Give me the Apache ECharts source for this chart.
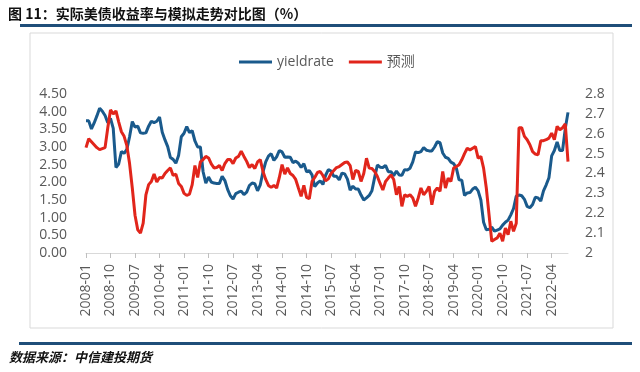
<!DOCTYPE html>
<html><head><meta charset="utf-8">
<script src="https://cdn.jsdelivr.net/npm/echarts@6/dist/echarts.min.js"></script>
<style>html,body{margin:0;padding:0;background:#fff}#c{width:640px;height:372px}</style>
</head><body><div id="c"></div>
<script>
// Monthly categories 2008-01 .. 2022-10
const startYear = 2008, endYear = 2022, endMonth = 10;
const categories = [];
for (let y = startYear; y <= endYear; y++) {
  for (let m = 1; m <= 12; m++) {
    if (y === endYear && m > endMonth) break;
    categories.push(y + '-' + (m < 10 ? '0' + m : m));
  }
}
const yieldrate = [
3.74,3.74,3.51,3.68,3.88,4.10,4.01,3.89,3.69,3.81,3.53,2.42,
2.52,2.87,2.82,2.93,3.29,3.72,3.56,3.59,3.40,3.39,3.40,3.59,
3.73,3.69,3.73,3.85,3.42,3.20,3.01,2.70,2.65,2.54,2.76,3.29,
3.39,3.58,3.41,3.46,3.17,3.00,3.00,2.30,1.98,2.15,2.01,1.98,
1.97,1.97,2.17,2.05,1.80,1.62,1.53,1.68,1.72,1.75,1.65,1.72,
1.91,1.98,1.96,1.76,1.93,2.30,2.58,2.74,2.81,2.62,2.72,2.90,
2.86,2.71,2.72,2.71,2.56,2.60,2.54,2.42,2.53,2.30,2.33,2.21,
1.88,1.98,2.04,1.94,2.20,2.36,2.32,2.17,2.17,2.07,2.26,2.24,
2.09,1.78,1.89,1.81,1.81,1.64,1.50,1.56,1.63,1.76,2.14,2.49,
2.43,2.42,2.48,2.30,2.30,2.19,2.32,2.21,2.20,2.36,2.35,2.40,
2.58,2.86,2.84,2.87,2.98,2.91,2.89,2.89,3.00,3.15,3.12,2.83,
2.71,2.68,2.57,2.53,2.40,2.07,2.06,1.63,1.70,1.71,1.81,1.86,
1.76,1.50,0.87,0.66,0.67,0.73,0.62,0.65,0.68,0.79,0.87,0.93,
1.08,1.26,1.61,1.64,1.62,1.52,1.32,1.28,1.37,1.58,1.56,1.47,
1.76,1.93,2.13,2.75,2.90,3.14,2.90,2.90,3.52,3.98
];
const forecast = [
2.53,2.575,2.56,2.545,2.53,2.52,2.525,2.53,2.63,2.72,2.70,2.715,
2.66,2.61,2.587,2.54,2.45,2.327,2.19,2.117,2.10,2.15,2.293,2.344,
2.36,2.397,2.357,2.38,2.377,2.40,2.415,2.428,2.39,2.397,2.35,2.335,
2.30,2.29,2.296,2.344,2.44,2.38,2.458,2.47,2.486,2.478,2.448,2.428,
2.43,2.44,2.415,2.45,2.47,2.47,2.45,2.478,2.486,2.512,2.486,2.461,
2.43,2.445,2.425,2.458,2.47,2.41,2.37,2.34,2.33,2.34,2.327,2.38,
2.445,2.397,2.428,2.40,2.39,2.37,2.327,2.285,2.34,2.28,2.273,2.36,
2.38,2.405,2.41,2.39,2.363,2.373,2.40,2.415,2.43,2.435,2.445,2.455,
2.458,2.44,2.37,2.415,2.41,2.36,2.40,2.477,2.427,2.425,2.41,2.385,
2.35,2.317,2.36,2.377,2.393,2.37,2.293,2.335,2.235,2.293,2.285,2.293,
2.277,2.235,2.277,2.327,2.293,2.31,2.335,2.243,2.31,2.327,2.31,2.41,
2.327,2.377,2.36,2.427,2.435,2.444,2.469,2.50,2.527,2.519,2.527,2.535,
2.477,2.486,2.427,2.327,2.193,2.059,2.068,2.076,2.10,2.059,2.126,2.092,
2.16,2.109,2.15,2.63,2.63,2.587,2.57,2.545,2.51,2.498,2.494,2.565,
2.565,2.57,2.578,2.603,2.57,2.637,2.62,2.63,2.65,2.46
];
const seriesNames = ['yieldrate', '预测'];
const titleText = '图 11：实际美债收益率与模拟走势对比图（%）';
const sourceText = '数据来源：中信建投期货';

const chart = echarts.init(document.getElementById('c'), null, {renderer: 'canvas'});
const labelColor = '#595959';
const font = '"Open Sans", "Noto Sans CJK SC", sans-serif';
chart.setOption({
  animation: false,
  textStyle: {fontFamily: font},
  graphic: [
    {type: 'rect', shape: {x: 30, y: 33, width: 583, height: 295}, style: {fill: 'none', stroke: '#d9d9d9', lineWidth: 1}, silent: true},
    {type: 'text', left: 8, top: 7, style: {text: titleText, font: 'bold 14px "Noto Sans CJK SC", sans-serif', fill: '#111'}},
    {type: 'rect', shape: {x: 20, y: 24, width: 612, height: 3}, style: {fill: '#1f4e79'}},
    {type: 'rect', shape: {x: 19, y: 342, width: 613, height: 3}, style: {fill: '#1f4e79'}},
    {type: 'text', left: 9, top: 351, style: {text: sourceText, font: 'italic bold 13px "Noto Sans CJK SC", sans-serif', fill: '#111'}}
  ],
  legend: {
    data: seriesNames,
    left: 239, top: 55, padding: 0,
    icon: 'rect', itemWidth: 33, itemHeight: 3, itemGap: 15,
    textStyle: {fontSize: 14, color: labelColor, fontFamily: font}
  },
  grid: {left: 86, right: 72, top: 94, bottom: 119},
  xAxis: {
    type: 'category', data: categories, boundaryGap: false,
    axisLine: {lineStyle: {color: '#d9d9d9'}},
    axisTick: {interval: 8, length: 5, lineStyle: {color: '#bfbfbf'}},
    axisLabel: {interval: 8, rotate: 90, margin: 11, fontSize: 14, color: labelColor, fontFamily: font},
    splitLine: {show: false}
  },
  yAxis: [
    {type: 'value', min: 0, max: 4.5, interval: 0.5,
     axisLine: {show: false}, axisTick: {show: false}, splitLine: {show: false},
     axisLabel: {margin: 19, fontSize: 14, color: labelColor, fontFamily: font, formatter: v => v.toFixed(2)}},
    {type: 'value', min: 2, max: 2.8, interval: 0.1, position: 'right',
     axisLine: {show: false}, axisTick: {show: false}, splitLine: {show: false},
     axisLabel: {margin: 17, fontSize: 14, color: labelColor, fontFamily: font, formatter: v => (Math.abs(v - 2) < 1e-9 ? '2' : v.toFixed(1))}}
  ],
  series: [
    {name: seriesNames[0], type: 'line', data: yieldrate, yAxisIndex: 0, symbol: 'none', showSymbol: false,
     lineStyle: {width: 3, color: '#1a5a8c'}, itemStyle: {color: '#1a5a8c'}},
    {name: seriesNames[1], type: 'line', data: forecast, yAxisIndex: 1, symbol: 'none', showSymbol: false,
     lineStyle: {width: 3, color: '#e1251b'}, itemStyle: {color: '#e1251b'}}
  ]
});
</script></body></html>
